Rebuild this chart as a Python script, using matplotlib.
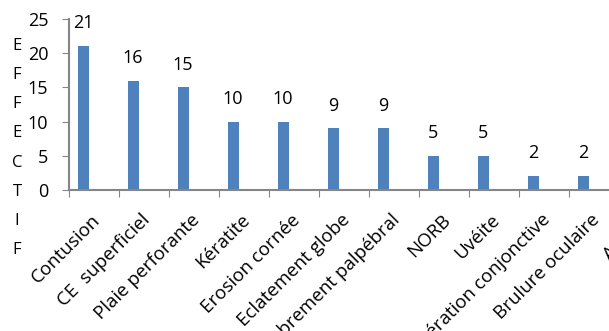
import numpy as np
import matplotlib
matplotlib.use("Agg")
from matplotlib import pyplot as plt
import matplotlib.transforms as mtransforms

plt.rcParams['font.family'] = ['Open Sans', 'DejaVu Sans']

# données
categories = ["Contusion", "CE  superficiel", "Plaie perforante", "Kératite",
              "Erosion cornée", "Eclatement globe", "Délabrement palpébral",
              "NORB", "Uvéite", "Lacération conjonctive", "Brulure oculaire",
              "Autres"]
effectifs = [21, 16, 15, 10, 10, 9, 9, 5, 5, 2, 2, 1]
yticks = [0, 5, 10, 15, 20, 25]
ylabel = "EFFECTIF"

W, H = 609, 331
fig = plt.figure(figsize=(W / 100, H / 100), dpi=100)
n = len(categories)
# l'axe dépasse à droite comme dans l'image d'origine (recadrée)
ax = fig.add_axes([69 / W, (H - 190) / H, 50 * n / W, 171 / H])

x = np.arange(n)
ax.bar(x + 0.28, effectifs, width=0.22, color='#4F81BD')
for xi, v in zip(x, effectifs):
    ax.annotate(str(v), (xi + 0.28, v), xytext=(0, 10), textcoords='offset points',
                ha='center', va='bottom', fontsize=13)

ax.set_xlim(0, n)
ax.set_ylim(0, 25)
ax.set_yticks(yticks)
ax.tick_params(axis='y', length=5, pad=10, labelsize=13, color='#868686')

# traits de graduation aux limites, étiquettes au centre
ax.set_xticks(np.arange(n + 1))
ax.set_xticklabels([])
ax.tick_params(axis='x', which='major', length=5, direction='out', color='#868686')
ax.set_xticks(x + 0.5, minor=True)
ax.set_xticklabels(categories, minor=True, rotation=45, ha='right',
                   rotation_mode='anchor', fontsize=13.5)
ax.tick_params(axis='x', which='minor', length=0, pad=15)
offset = mtransforms.ScaledTranslation(-3 / 100, 0, fig.dpi_scale_trans)
for lab in ax.get_xticklabels(minor=True):
    lab.set_transform(lab.get_transform() + offset)

for s in ['top', 'right']:
    ax.spines[s].set_visible(False)
for s in ['left', 'bottom']:
    ax.spines[s].set_color('#868686')
    ax.spines[s].set_linewidth(1.5)

# titre vertical lettre par lettre
ys = np.linspace(46, 250, len(ylabel))
for ch, yy in zip(ylabel, ys):
    fig.text(17 / W, 1 - yy / H, ch, ha='center', va='center', fontsize=12)

fig.savefig("out.png", dpi=100)
